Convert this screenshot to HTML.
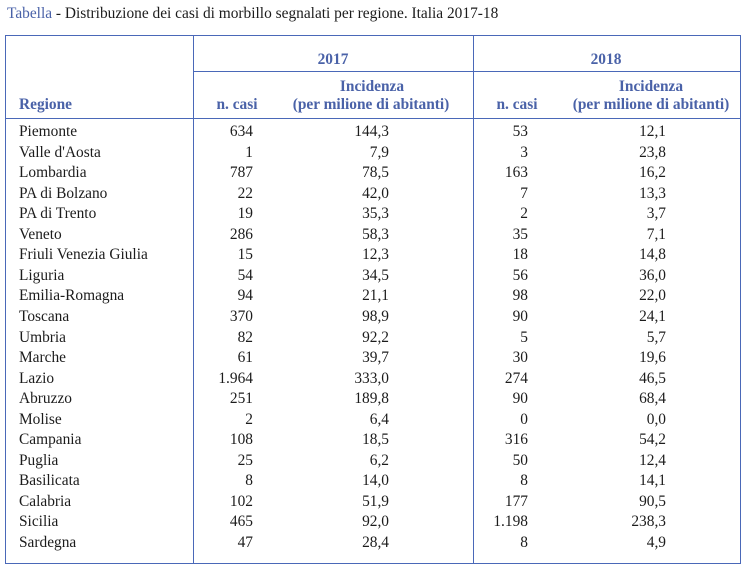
<!DOCTYPE html>
<html><head><meta charset="utf-8">
<style>
html,body{margin:0;padding:0;background:#fff;}
body{width:748px;height:572px;position:relative;overflow:hidden;font-family:"Liberation Serif",serif;font-size:15.4px;color:#1c1c1c;}
.t{position:absolute;line-height:20px;height:20px;white-space:nowrap;}
.h{color:#4a62a8;font-weight:bold;}
.c{text-align:center;}
.r{text-align:right;}
.row{position:absolute;left:0;width:748px;height:20px;}
.row div{position:absolute;top:0;line-height:20px;height:20px;white-space:nowrap;}
.a{left:19px;}
.b{left:153px;width:100px;text-align:right;}
.d{left:289px;width:100px;text-align:right;}
.e{left:428px;width:100px;text-align:right;}
.f{left:566px;width:100px;text-align:right;}
</style></head><body>
<svg width="748" height="572" style="position:absolute;left:0;top:0">
<g stroke="#4a68b8" stroke-width="1.2" fill="none" shape-rendering="crispEdges">
<rect x="5.5" y="35.5" width="735" height="528"/>
<line x1="193.5" y1="35" x2="193.5" y2="564"/>
<line x1="473.5" y1="35" x2="473.5" y2="564"/>
<line x1="193" y1="71.5" x2="741" y2="71.5"/>
<line x1="5" y1="118.5" x2="741" y2="118.5"/>
</g>
</svg>
<div class="t" style="left:7px;top:4px;"><span style="color:#4a62a8">Tabella</span> - Distribuzione dei casi di morbillo segnalati per regione. Italia 2017-18</div>

<div class="t h c" style="left:233px;top:50px;width:200px;">2017</div>
<div class="t h c" style="left:506px;top:50px;width:200px;">2018</div>
<div class="t h c" style="left:272px;top:77px;width:200px;">Incidenza</div>
<div class="t h c" style="left:551px;top:77px;width:200px;">Incidenza</div>
<div class="t h" style="left:19px;top:95px;">Regione</div>
<div class="t h c" style="left:187px;top:95px;width:100px;">n. casi</div>
<div class="t h c" style="left:271px;top:95px;width:200px;">(per milione di abitanti)</div>
<div class="t h c" style="left:467px;top:95px;width:100px;">n. casi</div>
<div class="t h c" style="left:551px;top:95px;width:200px;">(per milione di abitanti)</div>

<div class="row" style="top:122px"><div class="a">Piemonte</div><div class="b">634</div><div class="d">144,3</div><div class="e">53</div><div class="f">12,1</div></div>
<div class="row" style="top:142.55px"><div class="a">Valle d'Aosta</div><div class="b">1</div><div class="d">7,9</div><div class="e">3</div><div class="f">23,8</div></div>
<div class="row" style="top:163.1px"><div class="a">Lombardia</div><div class="b">787</div><div class="d">78,5</div><div class="e">163</div><div class="f">16,2</div></div>
<div class="row" style="top:183.65px"><div class="a">PA di Bolzano</div><div class="b">22</div><div class="d">42,0</div><div class="e">7</div><div class="f">13,3</div></div>
<div class="row" style="top:204.2px"><div class="a">PA di Trento</div><div class="b">19</div><div class="d">35,3</div><div class="e">2</div><div class="f">3,7</div></div>
<div class="row" style="top:224.75px"><div class="a">Veneto</div><div class="b">286</div><div class="d">58,3</div><div class="e">35</div><div class="f">7,1</div></div>
<div class="row" style="top:245.3px"><div class="a">Friuli Venezia Giulia</div><div class="b">15</div><div class="d">12,3</div><div class="e">18</div><div class="f">14,8</div></div>
<div class="row" style="top:265.85px"><div class="a">Liguria</div><div class="b">54</div><div class="d">34,5</div><div class="e">56</div><div class="f">36,0</div></div>
<div class="row" style="top:286.4px"><div class="a">Emilia-Romagna</div><div class="b">94</div><div class="d">21,1</div><div class="e">98</div><div class="f">22,0</div></div>
<div class="row" style="top:306.95px"><div class="a">Toscana</div><div class="b">370</div><div class="d">98,9</div><div class="e">90</div><div class="f">24,1</div></div>
<div class="row" style="top:327.5px"><div class="a">Umbria</div><div class="b">82</div><div class="d">92,2</div><div class="e">5</div><div class="f">5,7</div></div>
<div class="row" style="top:348.05px"><div class="a">Marche</div><div class="b">61</div><div class="d">39,7</div><div class="e">30</div><div class="f">19,6</div></div>
<div class="row" style="top:368.6px"><div class="a">Lazio</div><div class="b">1.964</div><div class="d">333,0</div><div class="e">274</div><div class="f">46,5</div></div>
<div class="row" style="top:389.15px"><div class="a">Abruzzo</div><div class="b">251</div><div class="d">189,8</div><div class="e">90</div><div class="f">68,4</div></div>
<div class="row" style="top:409.7px"><div class="a">Molise</div><div class="b">2</div><div class="d">6,4</div><div class="e">0</div><div class="f">0,0</div></div>
<div class="row" style="top:430.25px"><div class="a">Campania</div><div class="b">108</div><div class="d">18,5</div><div class="e">316</div><div class="f">54,2</div></div>
<div class="row" style="top:450.8px"><div class="a">Puglia</div><div class="b">25</div><div class="d">6,2</div><div class="e">50</div><div class="f">12,4</div></div>
<div class="row" style="top:471.35px"><div class="a">Basilicata</div><div class="b">8</div><div class="d">14,0</div><div class="e">8</div><div class="f">14,1</div></div>
<div class="row" style="top:491.9px"><div class="a">Calabria</div><div class="b">102</div><div class="d">51,9</div><div class="e">177</div><div class="f">90,5</div></div>
<div class="row" style="top:512.45px"><div class="a">Sicilia</div><div class="b">465</div><div class="d">92,0</div><div class="e">1.198</div><div class="f">238,3</div></div>
<div class="row" style="top:533px"><div class="a">Sardegna</div><div class="b">47</div><div class="d">28,4</div><div class="e">8</div><div class="f">4,9</div></div>
</body></html>
